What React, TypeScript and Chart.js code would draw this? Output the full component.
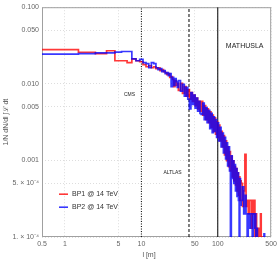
import React, { useEffect, useRef } from "react";
import { Chart, registerables } from "chart.js";

Chart.register(...registerables);

const FONT = "'Liberation Sans', Arial, sans-serif";

// Histogram binning: unit-width bins up to 30.5 m, then wider bins
const BIN_SEGMENTS = [
  { start: 0.5, width: 1, count: 30 },
  { start: 30.5, width: 2, count: 15 },
  { start: 60.5, width: 3, count: 14 },
  { start: 102.5, width: 4, count: 25 },
  { start: 202.5, width: 8, count: 27 },
];

// BP1 @ 14 TeV (red)
const redUnit = [0.028, 0.0258, 0.0247, 0.027, 0.02, 0.02, 0.0189, 0.0212, 0.02, 0.0194,
  0.0178, 0.0167, 0.0172, 0.0162, 0.0167, 0.0158, 0.0162, 0.0149, 0.0153, 0.0144,
  0.014, 0.0132, 0.0136, 0.0121, 0.0124, 0.0114, 0.0092, 0.011, 0.0095, 0.0101];
const redW2 = [0.0082, 0.0101, 0.0075, 0.0092, 0.0069, 0.0084, 0.0063, 0.0077, 0.0059, 0.0071,
  0.0052, 0.0065, 0.0047, 0.0059, 0.0044];
const redW3 = [0.0059, 0.0039, 0.0052, 0.0034, 0.0047, 0.0031, 0.0043, 0.0027, 0.0039, 0.0024,
  0.0036, 0.0022, 0.0032, 0.002];
const redW4 = [0.0029, 0.0018, 0.0024, 0.0015, 0.0021, 0.00118, 0.0018, 0.00099, 0.0015, 0.00083,
  0.0013, 0.00073, 0.00113, 0.00061, 0.00099, 0.00054, 0.00083, 0.00048, 0.00078, 0.0004,
  0.00069, 0.00035, 0.00061, 0.0003, 0.00054];
const redW8 = [0.0005, 0.00025, 0.0004, 0.0012, 0.00025, 0.0003, 0.0002, 0.0003, 0.0003, 0.00013,
  0.0003, 0.0002, 0.0003, 0.00005, 0.0002, 0.00013, 0.00005, 0.00013, 0.00005, 0.00013,
  0.0002, 0.00005, 0.0001, 0.00005, 0.00005, 0.00005, 0.00005];

// BP2 @ 14 TeV (blue)
const blueUnit = [0.0244, 0.0247, 0.0254, 0.0254, 0.0259, 0.0264, 0.0264, 0.0212, 0.02, 0.0209,
  0.0189, 0.0183, 0.0162, 0.0189, 0.0183, 0.0162, 0.0153, 0.0158, 0.0144, 0.0149,
  0.0136, 0.014, 0.0128, 0.0136, 0.0092, 0.0121, 0.0095, 0.0117, 0.0107, 0.009];
const blueW2 = [0.011, 0.008, 0.0098, 0.0069, 0.009, 0.0063, 0.0047, 0.0077, 0.0054, 0.0071,
  0.0048, 0.0065, 0.0044, 0.0059, 0.0041];
const blueW3 = [0.004, 0.0056, 0.0034, 0.0049, 0.0031, 0.0045, 0.0026, 0.0041, 0.0023, 0.0037,
  0.0024, 0.0034, 0.002, 0.0031];
const blueW4 = [0.0018, 0.0027, 0.0015, 0.00228, 0.00125, 0.002, 0.00105, 0.0017, 0.00085, 0.0015,
  0.00073, 0.00005, 0.00115, 0.00058, 0.00099, 0.0005, 0.00088, 0.0004, 0.00078, 0.00034,
  0.00069, 0.0003, 0.00005, 0.00058, 0.00026];
const blueW8 = [0.0003, 0.00045, 0.0002, 0.00035, 0.0002, 0.00005, 0.0002, 0.00013, 0.0002, 0.0002,
  0.00005, 0.0002, 0.00013, 0.0002, 0.00005, 0.00013, 0.00005, 0.00005, 0.00005, 0.00005,
  0.00005, 0.00005, 0.00005, 0.00005, 0.00005, 0.00011, 0.00005];

const X_TICKS = [0.5, 1, 5, 10, 50, 100, 500];
const X_TICK_LABELS = ["0.5", "1", "5", "10", "50", "100", "500"];
const Y_TICKS = [1e-4, 5e-4, 1e-3, 5e-3, 1e-2, 5e-2, 1e-1];
const Y_TICK_LABELS = ["1. × 10⁻⁴", "5. × 10⁻⁴", "0.001", "0.005", "0.010", "0.050", "0.100"];

const DETECTOR_POSITIONS = [10, 42, 100];
const DETECTOR_DASHES = [[1, 1.5], [3, 2], []];

const REGION_TEXTS = ["CMS", "ALTLAS", "MATHUSLA"];
const REGION_L = [7, 25.6, 225];
const REGION_V = [0.0073, 0.00069, 0.031];
const REGION_SIZES = [5, 5, 7];

const SERIES_LABELS = ["BP1 @ 14 TeV", "BP2 @ 14 TeV"];
const SERIES_COLORS = ["rgba(255,0,0,0.78)", "rgba(0,0,255,0.78)"];

function buildEdges(): number[] {
  const edges: number[] = [];
  BIN_SEGMENTS.forEach((s) => {
    for (let i = 0; i < s.count; i++) edges.push(s.start + i * s.width);
  });
  const last = BIN_SEGMENTS[BIN_SEGMENTS.length - 1];
  edges.push(last.start + last.count * last.width);
  return edges;
}

function histPoints(edges: number[], values: number[]) {
  const pts = values.map((v, i) => ({ x: edges[i], y: v }));
  pts.push({ x: edges[values.length], y: values[values.length - 1] });
  return pts;
}

const overlay = {
  id: "overlay",
  beforeDatasetsDraw(chart: any) {
    const { ctx, chartArea } = chart;
    const { left, right, top, bottom } = chartArea;
    ctx.save();
    ctx.strokeStyle = "#a0a0a0";
    ctx.lineWidth = 1;
    ctx.strokeRect(left + 0.5, top + 0.5, right - left - 1, bottom - top - 1);
    ctx.restore();
  },
  afterDraw(chart: any) {
    const { ctx, chartArea, scales } = chart;
    const { left, top, bottom } = chartArea;
    const xs = scales.x;
    const ys = scales.y;
    ctx.save();
    ctx.fillStyle = "#222";
    ctx.textAlign = "center";
    ctx.textBaseline = "middle";
    REGION_TEXTS.forEach((t, i) => {
      ctx.font = `${REGION_SIZES[i]}px ${FONT}`;
      ctx.fillText(t, xs.getPixelForValue(REGION_L[i]), ys.getPixelForValue(REGION_V[i]));
    });
    ctx.font = `7px ${FONT}`;
    ctx.textAlign = "left";
    SERIES_LABELS.forEach((lab, i) => {
      const yy = top + 187 + i * 13;
      ctx.strokeStyle = SERIES_COLORS[i];
      ctx.lineWidth = 1.6;
      ctx.beginPath();
      ctx.moveTo(left + 17, yy);
      ctx.lineTo(left + 26, yy);
      ctx.stroke();
      ctx.fillStyle = "#333";
      ctx.fillText(lab, left + 30, yy);
    });
    ctx.fillStyle = "#555";
    ctx.font = `7px ${FONT}`;
    ctx.textAlign = "center";
    ctx.fillText("l [m]", 149, 255);
    ctx.translate(6, (top + bottom) / 2);
    ctx.rotate(-Math.PI / 2);
    ctx.fillText("1/N dN/dl ∫ℒ dt", 0, 0);
    ctx.restore();
  },
};

export default function App() {
  const ref = useRef<HTMLCanvasElement | null>(null);
  useEffect(() => {
    if (!ref.current) return;
    const edges = buildEdges();
    const red = [...redUnit, ...redW2, ...redW3, ...redW4, ...redW8];
    const blue = [...blueUnit, ...blueW2, ...blueW3, ...blueW4, ...blueW8];
    const detectorSets = DETECTOR_POSITIONS.map((l, i) => ({
      label: REGION_TEXTS[i],
      data: [{ x: l, y: 1e-4 }, { x: l, y: 0.1 }],
      borderColor: "#000",
      borderWidth: 1,
      borderDash: DETECTOR_DASHES[i],
      pointRadius: 0,
      order: 3,
    }));
    const chart = new Chart(ref.current, {
      type: "line",
      data: {
        datasets: [
          ...detectorSets,
          {
            label: SERIES_LABELS[0],
            data: histPoints(edges, red),
            borderColor: SERIES_COLORS[0],
            borderWidth: 1.7,
            stepped: "before",
            pointRadius: 0,
            clip: 0,
            order: 2,
          },
          {
            label: SERIES_LABELS[1],
            data: histPoints(edges, blue),
            borderColor: SERIES_COLORS[1],
            borderWidth: 1.7,
            stepped: "before",
            pointRadius: 0,
            clip: 0,
            order: 1,
          },
        ] as any,
      },
      options: {
        animation: false,
        responsive: false,
        layout: { padding: { top: 5, right: 7, left: 0, bottom: 0 } },
        plugins: { legend: { display: false }, tooltip: { enabled: false } },
        scales: {
          x: {
            type: "logarithmic",
            min: 0.5,
            max: 500,
            afterBuildTicks: (s: any) => {
              s.ticks = X_TICKS.map((v) => ({ value: v }));
            },
            afterFit: (s: any) => {
              s.height = 23;
            },
            ticks: {
              autoSkip: false,
              maxRotation: 0,
              padding: 3,
              color: "#666",
              font: { family: FONT, size: 7 },
              callback: (v: any) => X_TICK_LABELS[X_TICKS.indexOf(Number(v))],
            },
            grid: { color: "#d4d4d4", lineWidth: 0.8, drawTicks: false },
            border: { display: false, dash: [1, 2] },
          },
          y: {
            type: "logarithmic",
            min: 1e-4,
            max: 0.1,
            afterBuildTicks: (s: any) => {
              s.ticks = Y_TICKS.map((v) => ({ value: v }));
            },
            afterFit: (s: any) => {
              s.width = 42;
            },
            ticks: {
              autoSkip: false,
              padding: 3,
              color: "#666",
              font: { family: FONT, size: 7 },
              callback: (v: any) => Y_TICK_LABELS[Y_TICKS.indexOf(Number(v))],
            },
            grid: { color: "#d4d4d4", lineWidth: 0.8, drawTicks: false },
            border: { display: false, dash: [1, 2] },
          },
        },
      } as any,
      plugins: [overlay],
    });
    return () => chart.destroy();
  }, []);
  return (
    <canvas
      ref={ref}
      width={280}
      height={260}
      style={{ position: "absolute", left: 0, top: 0, display: "block", background: "#fff" }}
    />
  );
}
